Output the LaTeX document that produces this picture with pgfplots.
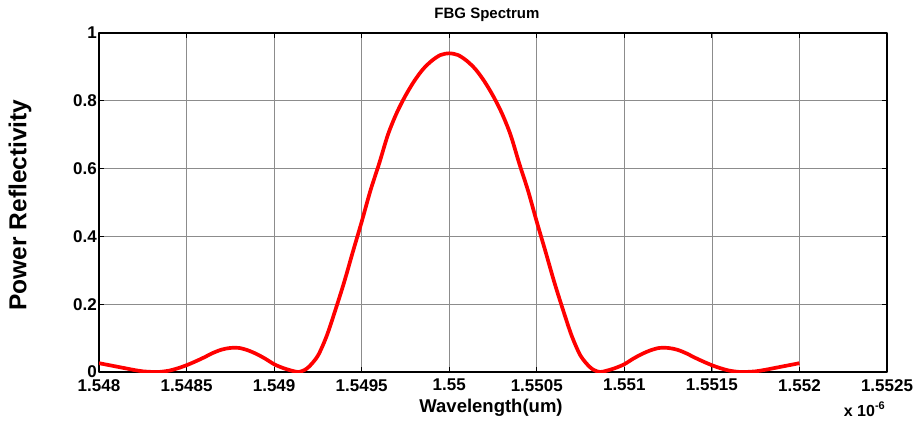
\documentclass[border=0pt]{standalone}
\usepackage{pgfplots}
\pgfplotsset{compat=1.18}
\usepackage{fontspec}
\setmainfont{Liberation Sans}
\begin{document}
\begin{tikzpicture}[x=1pt,y=1pt]
\useasboundingbox (-99pt,-56pt) rectangle (818pt,372pt);
\begin{axis}[
  at={(0pt,0pt)}, anchor=south west,
  scale only axis, width=788pt, height=339pt,
  xmin=-2000, xmax=2500, ymin=0, ymax=1,
  xtick={-2000,-1500,-1000,-500,0,500,1000,1500,2000,2500},
  xticklabels={1.548,1.5485,1.549,1.5495,1.55,1.5505,1.551,1.5515,1.552,1.5525},
  ytick={0,0.2,0.4,0.6,0.8,1},
  yticklabels={0,0.2,0.4,0.6,0.8,1},
  tick label style={font=\fontsize{17}{20}\selectfont\bfseries},
  xticklabel style={inner sep=0pt, anchor=north, yshift=-7pt},
  yticklabel style={inner sep=0pt, anchor=east, xshift=-2pt},
  grid=major, major grid style={black!45, line width=0.7pt},
  axis line style={line width=1.3pt},
  tick align=inside, major tick length=5pt,
  tick style={black, line width=0.8pt},
  line join=round,
]
\addplot[red, line width=3.7pt, line join=round, smooth, tension=0.5] coordinates {
(-2000,0.026)(-1950,0.021)(-1900,0.016)(-1850,0.011)(-1800,0.006)(-1750,0.002)(-1700,0.0003)(-1680,0)(-1650,0.0005)(-1600,0.004)(-1550,0.011)(-1500,0.020)(-1450,0.031)(-1400,0.043)(-1350,0.056)(-1300,0.066)(-1250,0.071)(-1200,0.071)(-1150,0.064)(-1100,0.053)(-1050,0.039)(-1000,0.023)(-950,0.012)(-900,0.004)(-862,0)(-830,0.005)(-800,0.016)(-750,0.048)(-700,0.106)(-650,0.183)(-600,0.265)(-550,0.355)(-500,0.443)(-450,0.535)(-400,0.615)(-350,0.700)(-300,0.764)(-250,0.815)(-200,0.858)(-150,0.893)(-100,0.918)(-50,0.935)(0,0.940)
(50,0.935)(100,0.918)(150,0.893)(200,0.858)(250,0.815)(300,0.764)(350,0.700)(400,0.615)(450,0.535)(500,0.443)(550,0.355)(600,0.265)(650,0.183)(700,0.106)(750,0.048)(800,0.016)(830,0.005)(862,0)(900,0.004)(950,0.012)(1000,0.023)(1050,0.039)(1100,0.053)(1150,0.064)(1200,0.071)(1250,0.071)(1300,0.066)(1350,0.056)(1400,0.043)(1450,0.031)(1500,0.020)(1550,0.011)(1600,0.004)(1650,0.0005)(1680,0)(1700,0.0003)(1750,0.002)(1800,0.006)(1850,0.011)(1900,0.016)(1950,0.021)(2000,0.026)
};
\end{axis}
\node[anchor=base, font=\fontsize{15}{18}\selectfont\bfseries] at (388pt,353pt) {FBG Spectrum};
\node[anchor=base, font=\fontsize{18.5}{22}\selectfont\bfseries] at (392pt,-40pt) {Wavelength(um)};
\node[rotate=90, font=\fontsize{24.5}{28}\selectfont\bfseries] at (-79pt,167pt) {Power Reflectivity};
\node[anchor=base east, font=\fontsize{16}{19}\selectfont\bfseries, inner sep=0pt] at (786pt,-44pt) {x 10\raisebox{7pt}{\fontsize{11}{13}\selectfont -6}};
\end{tikzpicture}
\end{document}
